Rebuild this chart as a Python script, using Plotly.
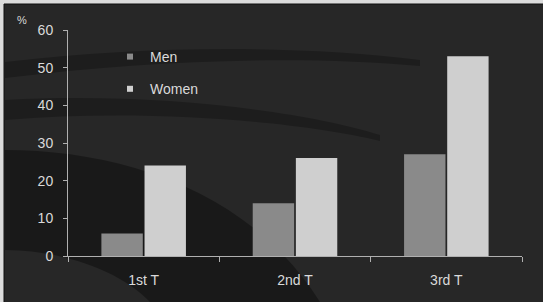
import plotly.graph_objects as go

categories = ["1st T", "2nd T", "3rd T"]
men = [6, 14, 27]
women = [24, 26, 53]
y_ticks = [0, 10, 20, 30, 40, 50, 60]

W, H = 543, 302
ml, mr, mt, mb = 68, 21, 30, 46
pw, ph = W - ml - mr, H - mt - mb

def px2x(p):
    return (p - ml) / pw

def px2y(p):
    return (H - mb - p) / ph

fig = go.Figure()
fig.add_trace(go.Bar(x=categories, y=men, name="Men", marker_color="#8a8a8a",
                     marker_line_width=0, showlegend=False))
fig.add_trace(go.Bar(x=categories, y=women, name="Women", marker_color="#cfcfcf",
                     marker_line_width=0, showlegend=False))
# legend entries with small square markers
fig.add_trace(go.Scatter(x=[None], y=[None], mode="markers", name="Men",
                         marker=dict(symbol="square", size=6, color="#8a8a8a"),
                         legendgroup="a"))
fig.add_trace(go.Scatter(x=[None], y=[None], mode="markers", name="Women",
                         marker=dict(symbol="square", size=6, color="#cfcfcf"),
                         legendgroup="b"))

shapes = [
    # dark panel (light frame shows on top and left)
    dict(type="rect", xref="paper", yref="paper", layer="below",
         x0=px2x(4), x1=px2x(W + 2), y0=px2y(H + 2), y1=px2y(4),
         fillcolor="#272727", line=dict(color="#111111", width=1)),
    # subtle dark streaks
    dict(type="path", xref="paper", yref="paper", layer="below",
         path=f"M {px2x(5)},{px2y(62)} C {px2x(150)},{px2y(45)} {px2x(300)},{px2y(45)} {px2x(420)},{px2y(60)} "
              f"L {px2x(420)},{px2y(66)} C {px2x(300)},{px2y(55)} {px2x(150)},{px2y(60)} {px2x(5)},{px2y(78)} Z",
         fillcolor="rgba(0,0,0,0.25)", line=dict(width=0)),
    dict(type="path", xref="paper", yref="paper", layer="below",
         path=f"M {px2x(5)},{px2y(100)} C {px2x(150)},{px2y(92)} {px2x(300)},{px2y(110)} {px2x(380)},{px2y(135)} "
              f"L {px2x(380)},{px2y(141)} C {px2x(300)},{px2y(122)} {px2x(150)},{px2y(108)} {px2x(5)},{px2y(120)} Z",
         fillcolor="rgba(0,0,0,0.25)", line=dict(width=0)),
    dict(type="path", xref="paper", yref="paper", layer="below",
         path=f"M {px2x(5)},{px2y(150)} C {px2x(120)},{px2y(150)} {px2x(250)},{px2y(190)} {px2x(320)},{px2y(302)} "
              f"L {px2x(150)},{px2y(302)} C {px2x(120)},{px2y(270)} {px2x(60)},{px2y(250)} {px2x(5)},{px2y(250)} Z",
         fillcolor="rgba(0,0,0,0.35)", line=dict(width=0)),
]

fig.update_layout(
    width=W, height=H,
    margin=dict(l=ml, r=mr, t=mt, b=mb, pad=0),
    paper_bgcolor="#dcdcdc",
    plot_bgcolor="rgba(0,0,0,0)",
    font=dict(family="Liberation Sans, Arial, sans-serif", size=14, color="#dadada"),
    barmode="group",
    bargap=0.43,
    bargroupgap=0.04,
    shapes=shapes,
    showlegend=True,
    legend=dict(x=px2x(110), y=px2y(41), xanchor="left", yanchor="top",
                bgcolor="rgba(0,0,0,0)", traceorder="grouped", tracegroupgap=11,
                itemwidth=30, font=dict(size=14, color="#dadada")),
    annotations=[dict(text="%", xref="paper", yref="paper", x=px2x(22), y=px2y(20),
                      xanchor="center", yanchor="middle",
                      showarrow=False, font=dict(size=11, color="#dadada"))],
)
fig.update_xaxes(showline=True, linecolor="#b0b0b0", linewidth=1,
                 ticks="outside", ticklen=5, tickcolor="#b0b0b0", tickson="boundaries",
                 ticklabelstandoff=11, showgrid=False, tickfont=dict(size=14))
fig.update_yaxes(range=[0, 60], tickvals=y_ticks, showline=True, linecolor="#b0b0b0",
                 linewidth=1, ticks="outside", ticklen=4, tickcolor="#b0b0b0",
                 ticklabelstandoff=7, showgrid=False, zeroline=False, tickfont=dict(size=14))

fig.write_html("out.html", config={"displayModeBar": False},
               post_script="document.body.style.margin='0';")
